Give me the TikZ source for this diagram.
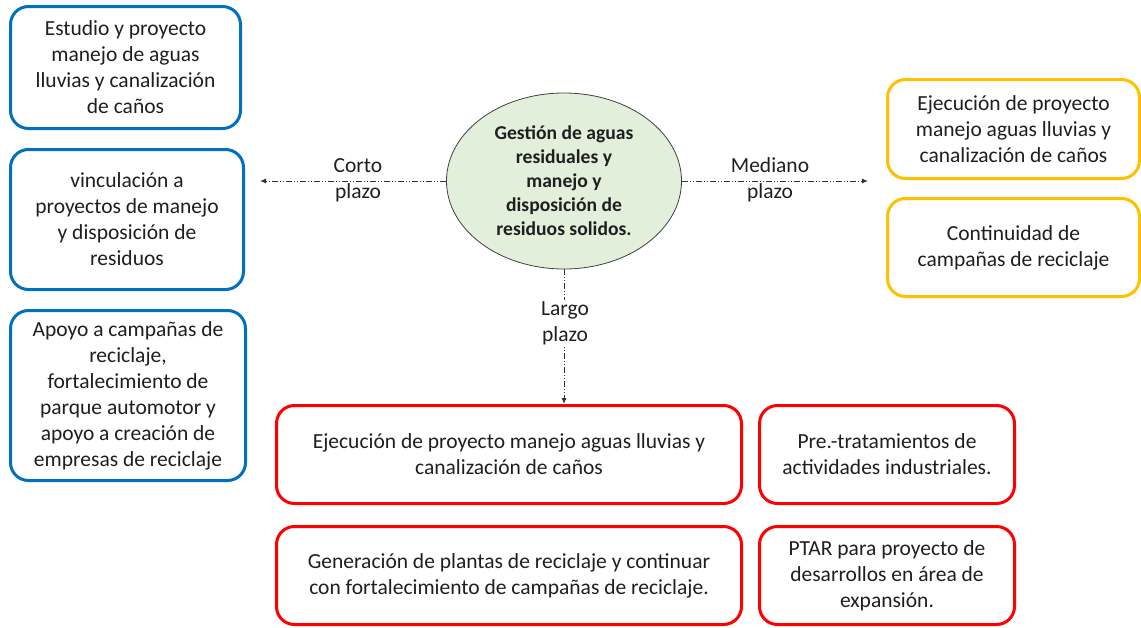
\documentclass[tikz,border=0pt]{standalone}
\usepackage{fontspec}
\setmainfont{Carlito}
\usetikzlibrary{arrows.meta,positioning,calc,shapes.geometric}
\definecolor{plazoCorto}{RGB}{0,112,192}
\definecolor{plazoMedio}{RGB}{255,192,0}
\definecolor{plazoLargo}{RGB}{255,0,0}
\definecolor{ejeFill}{RGB}{226,239,218}
\tikzset{planmap/.style={
  x=1pt, y=-1pt,
  every node/.style={text=black!88, font=\fontsize{21.5pt}{26pt}\selectfont},
  tarea/.style={rounded corners=18pt, line width=3pt, fill=white, inner sep=0pt, align=center},
  corto/.style={tarea, draw=plazoCorto},
  medio/.style={tarea, draw=plazoMedio},
  largo/.style={tarea, draw=plazoLargo},
  eje/.style={ellipse, draw=black!75, line width=0.8pt, fill=ejeFill, inner sep=0pt, align=center,
    font=\bfseries\fontsize{19.6pt}{24pt}\selectfont},
  flujo/.style={-{Latex[length=6pt,width=5pt]}, line width=0.9pt, black!80,
    dash pattern=on 6pt off 2pt on 1pt off 2pt on 1pt off 2pt},
  etiqueta/.style={align=center, inner sep=1pt},
}}

\begin{document}
\begin{tikzpicture}[planmap]
\useasboundingbox (0,0) rectangle (1141,627);

% ---- centro ----
\node[eje, minimum width=235, minimum height=176] (gestion) at (564,181)
  {Gestión de aguas\\residuales y\\manejo y\\disposición de\\residuos solidos.};

% ---- corto plazo ----
\node[corto, minimum width=230, minimum height=122] (c1) at (125.5,67.5)
  {Estudio y proyecto\\manejo de aguas\\lluvias y canalización\\de caños};
\node[corto, minimum width=233, minimum height=140] (c2) at (127,219.5)
  {vinculación a\\proyectos de manejo\\y disposición de\\residuos};
\node[corto, minimum width=235, minimum height=170] (c3) at (128,395.5)
  {Apoyo a campañas de\\reciclaje,\\fortalecimiento de\\parque automotor y\\apoyo a creación de\\empresas de reciclaje};

% ---- mediano plazo ----
\node[medio, minimum width=252, minimum height=99] (m1) at (1013.5,129)
  {Ejecución de proyecto\\manejo aguas lluvias y\\canalización de caños};
\node[medio, minimum width=252, minimum height=98] (m2) at (1013.5,247.5)
  {Continuidad de\\campañas de reciclaje};

% ---- largo plazo ----
\node[largo, minimum width=465, minimum height=98] (l1) at (509,454.5)
  {Ejecución de proyecto manejo aguas lluvias y\\canalización de caños};
\node[largo, minimum width=255, minimum height=98] (l2) at (887,454.5)
  {Pre.-tratamientos de\\actividades industriales.};
\node[largo, minimum width=465, minimum height=98] (l3) at (509,575.5)
  {Generación de plantas de reciclaje y continuar\\con fortalecimiento de campañas de reciclaje.};
\node[largo, minimum width=255, minimum height=98] (l4) at (887,575.5)
  {PTAR para proyecto de\\desarrollos en área de\\expansión.};

% ---- flechas ----
\draw[flujo, shorten >=15pt] (gestion.west) -- (gestion.west -| c2.east);
\draw[flujo, shorten >=18pt] (gestion.east) -- (gestion.east -| m1.west);
\draw[flujo] (gestion.south) -- (gestion.south |- l1.north);

\node[etiqueta] (lcorto) at (358,180) {Corto\\plazo};
\node[etiqueta] (lmedio) at (770,180) {Mediano\\plazo};
\node[etiqueta, fill=white] (llargo) at (565,323) {Largo\\plazo};
\end{tikzpicture}
\end{document}
